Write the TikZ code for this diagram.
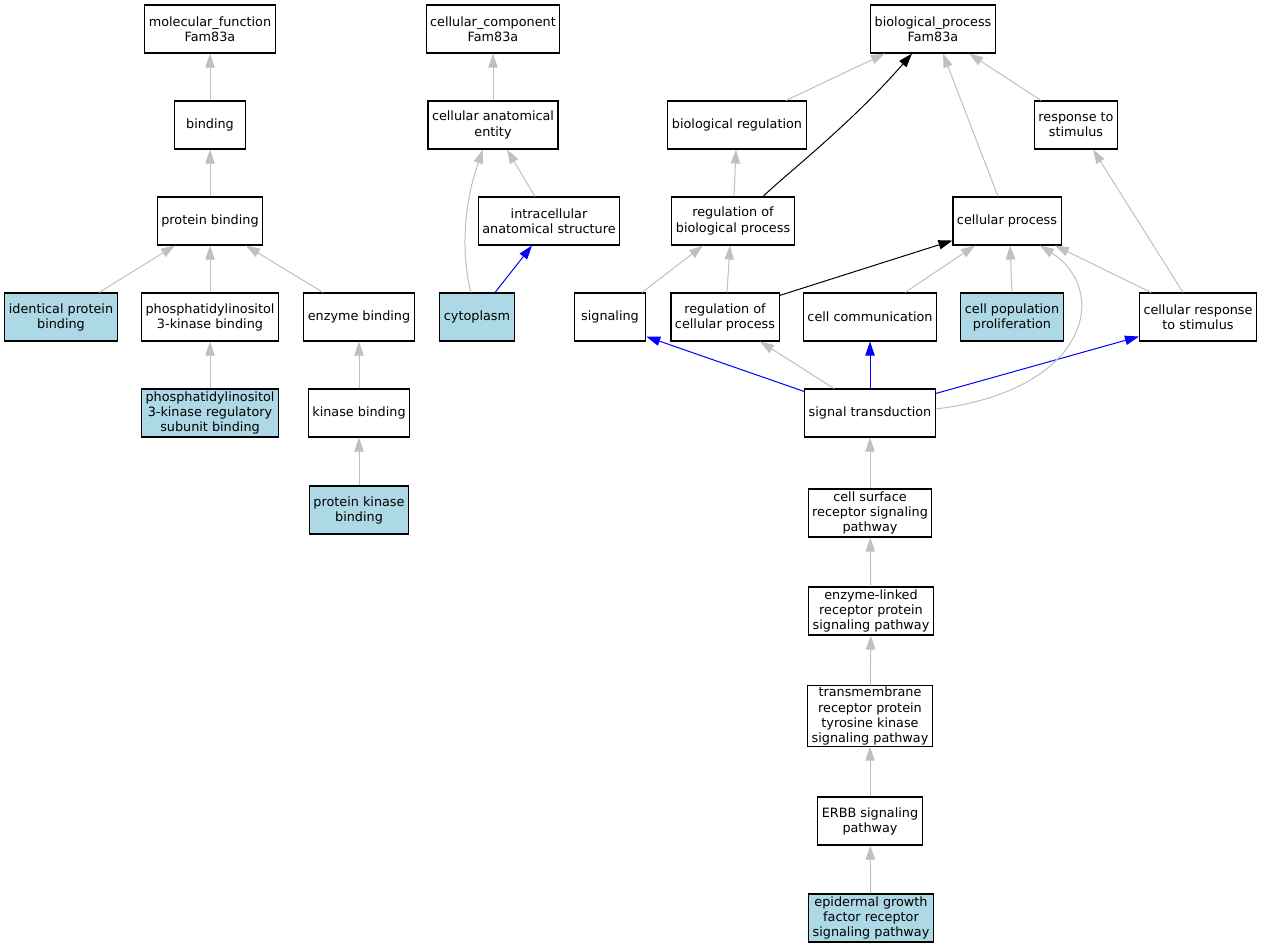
\documentclass[tikz,border=0pt]{standalone}
\usepackage{fontspec}
\setmainfont{DejaVu Sans}
\usetikzlibrary{arrows.meta,calc}
\definecolor{silver}{RGB}{192, 192, 192}
\definecolor{lightblue}{RGB}{173, 216, 230}
\definecolor{pureblue}{RGB}{0, 0, 255}

\begin{document}
\begin{tikzpicture}[x=0.75pt, y=-0.75pt,
    term/.style={draw, fill=white, line width=0.8pt, align=center, font=\fontsize{9.6}{11.3}\selectfont,
                 minimum width=53.5pt, minimum height=36pt, inner xsep=3pt, inner ysep=1pt},
    leaf/.style={term, fill=lightblue},
    isa/.style={draw=silver, line width=0.75pt, -{Triangle[length=10.5pt, width=7pt]}},
    reg/.style={isa, draw=black},
    part/.style={isa, draw=pureblue}]
            \fill[white] (0, 0) rectangle (1263, 949);
            \useasboundingbox (0, 0) rectangle (1263, 949);

            \node[term] (mf)      at ( 210,  29) {molecular\_function\\Fam83a};
            \node[term] (binding) at ( 210, 125) {binding};
            \node[term] (pb)      at ( 210, 221) {protein binding};
            \node[leaf] (ipb)     at (  61, 317) {identical protein\\binding};
            \node[term] (pik)     at ( 210, 317) {phosphatidylinositol\\3-kinase binding};
            \node[term] (eb)      at ( 359, 317) {enzyme binding};
            \node[leaf] (pikr)    at ( 210, 413) {phosphatidylinositol\\3-kinase regulatory\\subunit binding};
            \node[term] (kb)      at ( 359, 413) {kinase binding};
            \node[leaf] (pkb)     at ( 359, 510) {protein kinase\\binding};

            \node[term] (cc)      at ( 493,  29) {cellular\_component\\Fam83a};
            \node[term] (cae)     at ( 493, 125) {cellular anatomical\\entity};
            \node[term] (ias)     at ( 549, 221) {intracellular\\anatomical structure};
            \node[leaf] (cyto)    at ( 477, 317) {cytoplasm};

            \node[term] (bp)      at ( 933,  29) {biological\_process\\Fam83a};
            \node[term] (br)      at ( 737, 125) {biological regulation};
            \node[term] (rs)      at (1076, 125) {response to\\stimulus};
            \node[term] (rbp)     at ( 733, 221) {regulation of\\biological process};
            \node[term] (cp)      at (1007, 221) {cellular process};
            \node[term] (sig)     at ( 610, 317) {signaling};
            \node[term] (rcp)     at ( 725, 317) {regulation of\\cellular process};
            \node[term] (ccom)    at ( 870, 317) {cell communication};
            \node[leaf] (cpp)     at (1012, 317) {cell population\\proliferation};
            \node[term] (crs)     at (1198, 317) {cellular response\\to stimulus};
            \node[term] (st)      at ( 870, 413) {signal transduction};
            \node[term] (csr)     at ( 870, 513) {cell surface\\receptor signaling\\pathway};
            \node[term] (el)      at ( 871, 611) {enzyme-linked\\receptor protein\\signaling pathway};
            \node[term] (tm)      at ( 870, 716) {transmembrane\\receptor protein\\tyrosine kinase\\signaling pathway};
            \node[term] (erbb)    at ( 870, 821) {ERBB signaling\\pathway};
            \node[leaf] (egf)     at ( 871, 918) {epidermal growth\\factor receptor\\signaling pathway};

            \draw[isa]  (binding) -- (mf);
            \draw[isa]  (pb) -- (binding);
            \draw[isa]  ($(ipb.north)+(38,0)$) -- ($(pb.south)+(-35,0)$);
            \draw[isa]  (pik) -- (pb);
            \draw[isa]  ($(eb.north)+(-36,0)$) -- ($(pb.south)+(36,0)$);
            \draw[isa]  (pikr) -- (pik);
            \draw[isa]  (kb) -- (eb);
            \draw[isa]  (pkb) -- (kb);

            \draw[isa]  (cae) -- (cc);
            \draw[isa]  ($(ias.north)+(-14,0)$) -- ($(cae.south)+(14,0)$);
            \draw[isa]  ($(cyto.north)+(-6,0)$) .. controls (460, 250) and (465, 200) .. ($(cae.south)+(-10,0)$);
            \draw[part] ($(cyto.north)+(18,0)$) -- ($(ias.south)+(-17,0)$);

            \draw[isa]  ($(br.north)+(49,0)$) -- ($(bp.south)+(-48,0)$);
            \draw[reg]  ($(rbp.north)+(30,0)$) .. controls (785, 175) and (850, 125) .. ($(bp.south)+(-21,0)$);
            \draw[isa]  ($(cp.north)+(-9,0)$) -- ($(bp.south)+(10,0)$);
            \draw[isa]  ($(rs.north)+(-35,0)$) -- ($(bp.south)+(36,0)$);
            \draw[isa]  ($(rbp.north)+(1,0)$) -- ($(br.south)+(-1,0)$);
            \draw[isa]  ($(sig.north)+(32,0)$) -- ($(rbp.south)+(-30,0)$);
            \draw[isa]  ($(rcp.north)+(2,0)$) -- ($(rbp.south)+(-3,0)$);
            \draw[reg]  ($(rcp.north east)+(0,3)$) -- ($(cp.south west)+(0,-5)$);
            \draw[isa]  ($(ccom.north)+(35,0)$) -- ($(cp.south)+(-32,0)$);
            \draw[isa]  ($(cpp.north)$) -- ($(cp.south)+(3,0)$);
            \draw[isa]  ($(crs.north)+(-47,0)$) -- ($(cp.south)+(48,0)$);
            \draw[isa]  ($(crs.north)+(-15,0)$) -- ($(rs.south)+(17,0)$);
            \draw[part] ($(st.north west)+(0,3)$) -- ($(sig.south east)+(0,-5)$);
            \draw[isa]  ($(st.north)+(-36,0)$) -- ($(rcp.south)+(35,0)$);
            \draw[part] (st) -- (ccom);
            \draw[part] ($(st.north east)+(0,5)$) -- ($(crs.south west)+(0,-5)$);
            \draw[isa]  ($(st.east)+(0,-4)$) .. controls (1090, 390) and (1110, 290) .. ($(cp.south)+(33,0)$);
            \draw[isa]  (csr) -- (st);
            \draw[isa]  (el) -- (csr);
            \draw[isa]  (tm) -- (el);
            \draw[isa]  (erbb) -- (tm);
            \draw[isa]  (egf) -- (erbb);
        \end{tikzpicture}
\end{document}
